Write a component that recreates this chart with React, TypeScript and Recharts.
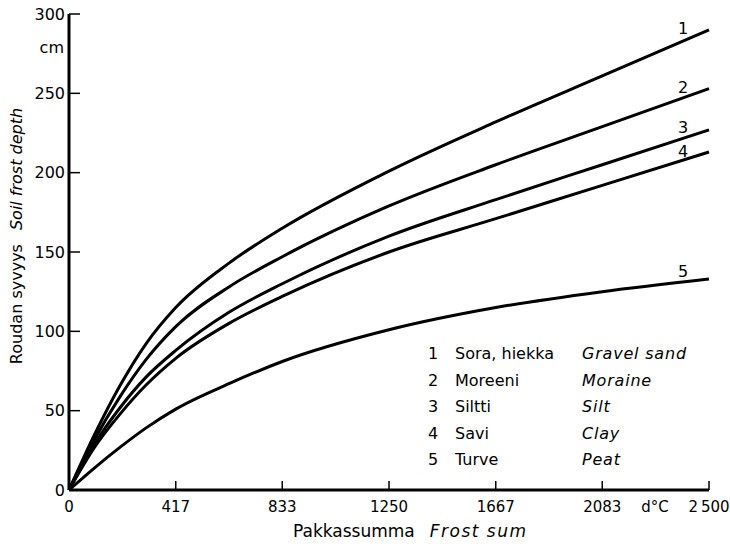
import React from 'react'
import { LineChart, Line, XAxis, YAxis, Customized } from 'recharts'

// frost sum (d°C) sample points
const frostSum = [0, 100, 200, 300, 417, 625, 833, 1250, 1667, 2083, 2500]

// soil frost depth (cm) per soil type
const gravelSand = [0, 35, 66, 92, 115, 143, 165, 201, 232, 261, 290]
const moraine = [0, 32, 59, 82, 103, 128, 147, 179, 205, 229, 253]
const silt = [0, 29, 52, 71, 88, 112, 130, 160, 183, 205, 227]
const clay = [0, 27, 48, 66, 83, 105, 122, 150, 171, 192, 213]
const peat = [0, 14, 27, 39, 51, 67, 81, 101, 115, 125, 133]

const xTicks = [0, 417, 833, 1250, 1667, 2083, 2500]
const xTickLabels = ['0', '417', '833', '1250', '1667', '2083', '2\u2009500']
const yTicks = [0, 50, 100, 150, 200, 250, 300]

const soilNumbers = ['1', '2', '3', '4', '5']
const soilNamesFi = ['Sora, hiekka', 'Moreeni', 'Siltti', 'Savi', 'Turve']
const soilNamesEn = ['Gravel sand', 'Moraine', 'Silt', 'Clay', 'Peat']

const FONT = "'DejaVu Sans', sans-serif"

const data = frostSum.map((x, i) => ({
    x,
    s1: gravelSand[i],
    s2: moraine[i],
    s3: silt[i],
    s4: clay[i],
    s5: peat[i],
}))

const XTick = (props: any) => {
    const { x, y, payload } = props
    const idx = xTicks.indexOf(payload.value)
    return (
        <g>
            {payload.value !== 0 && <line x1={x} y1={y} x2={x} y2={y - 9} stroke="#000" strokeWidth={1.5} />}
            <text x={x} y={y + 22} textAnchor="middle" fontFamily={FONT} fontSize={15} fill="#000">
                {xTickLabels[idx]}
            </text>
        </g>
    )
}

const YTick = (props: any) => {
    const { x, y, payload } = props
    return (
        <g>
            {payload.value !== 0 && <line x1={x} y1={y} x2={x + 11} y2={y} stroke="#000" strokeWidth={1.5} />}
            <text x={x - 4} y={y} dy="0.36em" textAnchor="end" fontFamily={FONT} fontSize={16} fill="#000">
                {payload.value}
            </text>
        </g>
    )
}

// axis titles, placed where they sit in the original figure
const YTitle = () => (
    <g>
        <text
            x={22}
            y={236}
            transform="rotate(-90, 22, 236)"
            textAnchor="middle"
            fontFamily={FONT}
            fontSize={16}
            fill="#000"
        >
            <tspan>Roudan syvyys</tspan>
            <tspan dx={14} fontStyle="italic">Soil frost depth</tspan>
        </text>
        <text x={64} y={53} textAnchor="end" fontFamily={FONT} fontSize={16} fill="#000">
            cm
        </text>
    </g>
)

const XTitle = () => (
    <g>
        <text x={293} y={537} fontFamily={FONT} fontSize={17} fill="#000">
            <tspan>Pakkassumma</tspan>
            <tspan dx={15} fontStyle="italic" letterSpacing={1.5}>Frost sum</tspan>
        </text>
        <text x={655} y={512} textAnchor="middle" fontFamily={FONT} fontSize={15} fill="#000">
            d°C
        </text>
    </g>
)

const endLabel = (text: string, dy: number) => (props: any) => {
    if (props.index !== frostSum.length - 1) return null
    return (
        <text x={props.x - 26} y={props.y + dy} textAnchor="middle" fontFamily={FONT} fontSize={16} fill="#000">
            {text}
        </text>
    )
}

const SoilList = () => (
    <g fontFamily={FONT} fontSize={16} fill="#000">
        {soilNumbers.map((n, i) => (
            <g key={n}>
                <text x={433} y={359 + i * 26.5} textAnchor="middle">{n}</text>
                <text x={455} y={359 + i * 26.5}>{soilNamesFi[i]}</text>
                <text x={582} y={359 + i * 26.5} fontStyle="italic" letterSpacing={0.8}>{soilNamesEn[i]}</text>
            </g>
        ))}
    </g>
)

const seriesKeys = ['s1', 's2', 's3', 's4', 's5']
const labelDy = [4, 4, 3, 5, -2]

export default function App() {
    return (
        <div style={{ position: 'absolute', left: 0, top: 0, width: 730, height: 546, background: '#fff' }}>
            <LineChart width={730} height={546} data={data} margin={{ top: 14, right: 21, bottom: 0, left: 0 }}>
                <XAxis
                    dataKey="x"
                    type="number"
                    domain={[0, 2500]}
                    ticks={xTicks}
                    tick={<XTick />}
                    tickLine={false}
                    tickSize={0}
                    tickMargin={0}
                    interval={0}
                    height={56}
                    axisLine={{ stroke: '#000', strokeWidth: 3 }}
                />
                <YAxis
                    type="number"
                    domain={[0, 300]}
                    ticks={yTicks}
                    tick={<YTick />}
                    tickLine={false}
                    tickSize={0}
                    tickMargin={0}
                    interval={0}
                    width={69}
                    axisLine={{ stroke: '#000', strokeWidth: 3 }}
                />
                {seriesKeys.map((k, i) => (
                    <Line
                        key={k}
                        type="monotone"
                        dataKey={k}
                        stroke="#000"
                        strokeWidth={3}
                        dot={false}
                        isAnimationActive={false}
                        label={endLabel(soilNumbers[i], labelDy[i])}
                    />
                ))}
                <Customized component={YTitle} />
                <Customized component={XTitle} />
                <Customized component={SoilList} />
            </LineChart>
        </div>
    )
}
